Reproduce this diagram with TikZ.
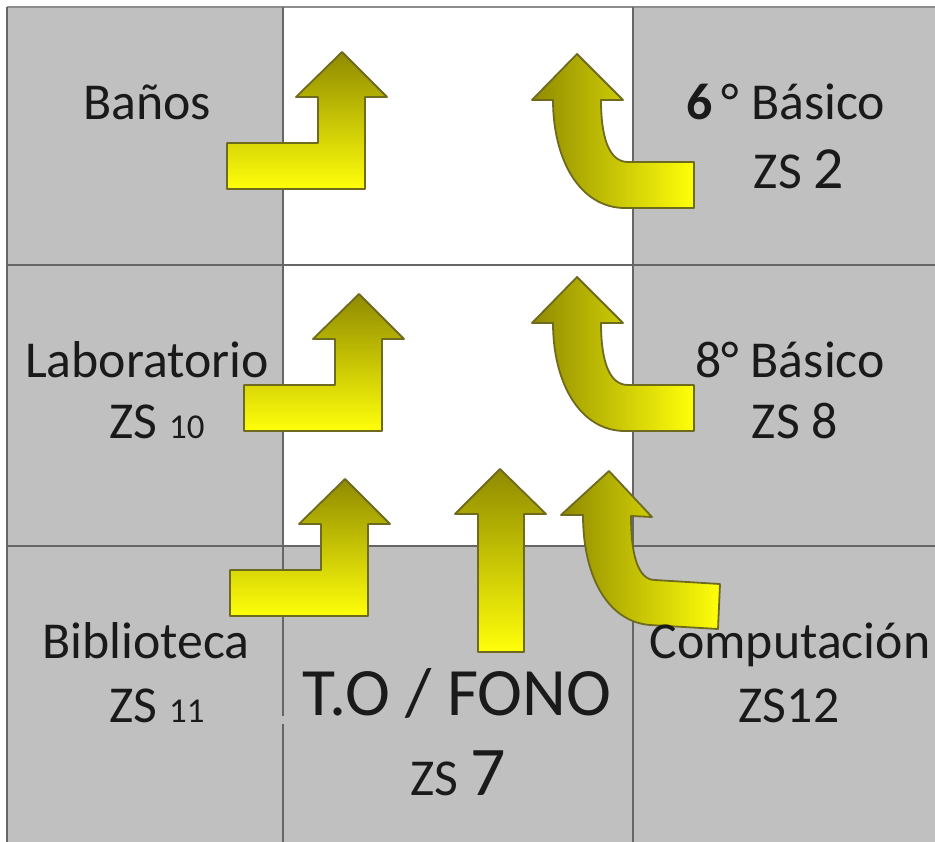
\documentclass[tikz,border=0pt]{standalone}
\usepackage{fontspec}
\setmainfont{Carlito}
\definecolor{cellgray}{HTML}{C0C0C0}
\definecolor{gridline}{HTML}{666666}
\definecolor{arrowedge}{HTML}{6E6A1E}
\definecolor{arrowdark}{HTML}{8F8A00}
\definecolor{arrowlight}{HTML}{FFFF0A}
\definecolor{inktext}{HTML}{1A1A1A}
\newcommand{\fs}[1]{\fontsize{#1}{#1}\selectfont}
\tikzset{
  x=1bp,y=-1bp,
  cell/.style={fill=cellgray,draw=none},
  gridrule/.style={draw=gridline,line width=1.8bp},
  uparrow/.style={draw=arrowedge,line width=1.8bp,line join=round,top color=arrowdark,bottom color=arrowlight},
  turnarrow/.style={draw=arrowedge,line width=1.8bp,line join=round,left color=arrowdark,right color=arrowlight},
  room/.style={anchor=base,inner sep=0pt,text=inktext,font=\fs{52}},
  roomnum/.style={anchor=base,inner sep=0pt,text=inktext,font=\fs{52}},
}
\newcommand{\bentarrow}[2]{%
  \path[uparrow,shift={(#1,#2)}] (227,143) -- (318,143) -- (318,97) -- (296,97) -- (342,52) -- (387,97) -- (365,97) -- (365,189) -- (227,189) -- cycle;}
\newcommand{\curvedarrow}[2]{%
  \path[turnarrow,shift={(#1,#2)}] (577,54) -- (623,100) -- (601,100) .. controls (601,135) and (608,162) .. (628,162) -- (694,162) -- (694,208) -- (625,208) .. controls (580,208) and (553,160) .. (553,100) -- (532,100) -- cycle;}
\begin{document}
\begin{tikzpicture}
\useasboundingbox (0,0) rectangle (935,842);
\fill[white] (0,0) rectangle (935,842);
% cells
\path[cell] (7,7) rectangle (283,842);
\path[cell] (633,7) rectangle (935,842);
\path[cell] (283,546) rectangle (633,842);
% rules
\draw[gridrule,draw=gridline!75] (7,7) -- (935,7);
\draw[gridrule] (7,7) -- (7,842);
\draw[gridrule] (283,7) -- (283,716);
\draw[gridrule] (283,724) -- (283,842);
\draw[gridrule] (633,7) -- (633,842);
\draw[gridrule] (7,265) -- (935,265);
\draw[gridrule] (7,546) -- (935,546);
% arrows
\bentarrow{0}{0}
\curvedarrow{0}{0}
\bentarrow{17}{242}
\curvedarrow{0}{223}
\bentarrow{3}{427}
\path[uparrow] (500,469) -- (546,514) -- (524,514) -- (524,652) -- (478,652) -- (478,514) -- (455,514) -- cycle;
\path[turnarrow] (609,471) -- (652,517) -- (631,516) .. controls (631,555) and (638,580) .. (655,580) -- (720,584) -- (718,629) -- (650,625) .. controls (610,622) and (583,580) .. (583,515) -- (561,515) -- cycle;
% labels
\node[room] (banos) at (147,119) {Baños};
\node[room] (sexto) at (786,119) {\textbf{6}\,° Básico};
\node[roomnum] (zs2) at (799,188) {ZS \fs{60}2};
\node[room] (lab) at (147,377) {Laboratorio};
\node[roomnum] (zs10) at (157,438) {ZS \fs{35}10};
\node[room] (octavo) at (790,377) {8° Básico};
\node[roomnum] (zs8) at (795,438) {ZS 8};
\node[room] (biblio) at (146,658) {Biblioteca};
\node[roomnum] (zs11) at (157,722) {ZS \fs{35}11};
\node[room] (compu) at (790,658) {Computación};
\node[roomnum] (zs12) at (789,722) {ZS12};
\node[room,font=\fs{68}] (tofono) at (457,715) {T.O / FONO};
\node[roomnum] (zs7) at (458,795) {ZS \fs{70}7};
\end{tikzpicture}
\end{document}
